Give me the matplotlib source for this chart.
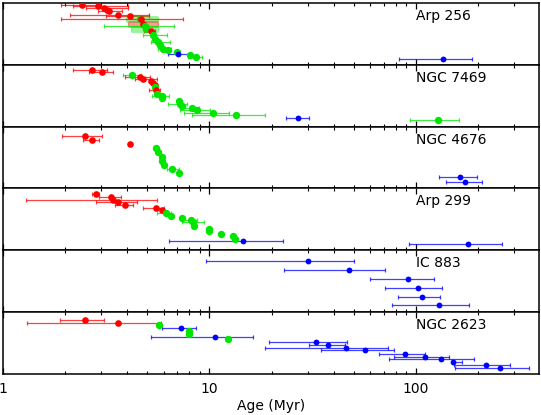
import matplotlib
matplotlib.use('Agg')
import matplotlib.pyplot as plt
from matplotlib.ticker import LogLocator, NullFormatter, FixedLocator, FixedFormatter

# Idades (Myr), limites inferior/superior, linha no painel (de cima p/ baixo) e tipo
# tipo: r = vermelho, g = verde, b = azul
galaxias = ["Arp 256", "NGC 7469", "NGC 4676", "Arp 299", "IC 883", "NGC 2623"]

arp256_age = [2.41, 2.88, 3.10, 3.18, 3.27, 3.60, 4.13, 4.61, 4.67, 4.79, 4.88, 4.92,
              5.22, 5.35, 5.46, 5.62, 5.77, 5.98, 6.33, 6.95, 7.08, 8.06, 8.59, 134.7]
arp256_lo = [1.91, 2.19, 2.53, 3.18, 2.90, 2.11, 3.15, 3.93, 1.91, 4.02, 3.10, 4.17,
             4.84, 4.79, 5.46, 5.22, 5.77, 5.66, 6.33, 6.95, 6.33, 8.06, 7.91, 82.5]
arp256_hi = [2.98, 4.02, 4.02, 3.18, 3.76, 5.12, 5.12, 5.66, 7.48, 5.66, 6.77, 5.66,
             5.46, 6.22, 5.46, 6.45, 5.77, 6.54, 6.33, 6.95, 8.06, 8.06, 9.19, 187]
arp256_row = [1.8, 3.2, 4.8, 6.8, 8.5, 11.8, 13.2, 15.8, 16.5, 21.5, 23.5, 25.8,
              28.5, 32.5, 35.8, 39.2, 42.5, 45.8, 47.5, 49.2, 50.8, 51.8, 54.2, 55.8]
arp256_kind = "rrrrrrrgrrggrgggggggbggb"

ngc7469_age = [2.71, 3.01, 4.22, 4.61, 4.78, 5.22, 5.35, 5.45, 5.45, 5.52, 5.60,
               5.92, 5.92, 7.12, 7.20, 7.36, 8.20, 8.66, 10.4, 13.5, 27.0, 128]
ngc7469_lo = [2.19, 2.62, 3.83, 3.90, 4.36, 5.22, 5.35, 5.45, 5.45, 5.12, 5.60,
              5.26, 5.92, 7.12, 6.33, 7.36, 7.20, 7.20, 7.56, 8.26, 23.5, 94]
ngc7469_hi = [3.18, 3.40, 4.67, 5.17, 5.56, 5.22, 5.35, 5.45, 5.45, 5.77, 5.60,
              6.40, 5.92, 7.12, 7.77, 7.36, 8.95, 10.1, 12.5, 18.6, 30.4, 162]
ngc7469_row = [5.0, 7.3, 10.0, 12.3, 14.7, 16.7, 18.3, 20.0, 22.3, 25.0, 29.0,
               31.3, 33.7, 36.7, 39.0, 41.3, 43.3, 45.7, 48.3, 50.7, 53.0, 55.7]
ngc7469_kind = "rrgrrrrrgrggggggggggbg"

ngc4676_age = [2.51, 2.71, 4.13, 5.50, 5.63, 5.92, 5.92, 6.00, 6.62, 7.12, 163, 173]
ngc4676_lo = [1.94, 2.45, 4.13, 5.50, 5.63, 5.92, 5.92, 6.00, 6.22, 7.12, 130, 140]
ngc4676_hi = [3.03, 2.92, 4.13, 5.50, 5.63, 5.92, 5.92, 6.00, 7.12, 7.12, 198, 209]
ngc4676_row = [9.0, 13.3, 17.3, 21.7, 25.7, 30.0, 34.0, 38.3, 42.3, 46.3, 50.7, 55.0]
ngc4676_kind = "rrrgggggggbb"

arp299_age = [2.81, 3.34, 3.40, 3.60, 3.92, 5.50, 5.92, 6.15, 6.52, 7.36, 8.13, 8.30,
              8.43, 9.90, 9.96, 11.4, 13.0, 13.3, 14.6, 179]
arp299_lo = [2.69, 2.92, 1.30, 2.81, 3.49, 4.79, 5.92, 5.60, 6.52, 7.36, 7.36, 7.36,
             8.43, 9.90, 9.96, 11.4, 13.0, 13.3, 6.34, 93.1]
arp299_hi = [2.93, 3.74, 5.56, 4.44, 4.28, 6.05, 5.92, 6.50, 6.52, 7.36, 8.66, 9.41,
             8.43, 9.90, 9.96, 11.4, 13.0, 13.3, 22.6, 262]
arp299_row = [5.7, 9.0, 11.3, 14.0, 16.3, 19.7, 21.7, 24.7, 27.3, 29.7, 31.7, 34.0,
              37.3, 40.7, 43.0, 45.7, 48.0, 50.7, 53.0, 55.7]
arp299_kind = "rrrrrrrgggggggggggbb"

ic883_age = [30.0, 47.2, 91.2, 102.4, 107.1, 128.8]
ic883_lo = [9.64, 23.1, 59.8, 71.2, 81.5, 76.6]
ic883_hi = [50.3, 71.1, 122.6, 133.8, 131, 180]
ic883_row = [10.7, 19.7, 28.3, 37.3, 46.3, 55.0]
ic883_kind = "bbbbbb"

ngc2623_age = [2.51, 3.60, 5.72, 7.29, 7.94, 7.94, 10.66, 12.3, 32.8, 37.5, 46.0,
               56.9, 88.2, 111.2, 132.7, 151, 219, 257]
ngc2623_lo = [1.89, 1.31, 5.72, 5.92, 7.94, 7.94, 5.20, 12.3, 19.5, 30.4, 18.6,
              34.7, 66.4, 78.7, 74, 150, 153.5, 155]
ngc2623_hi = [3.10, 5.83, 5.72, 8.61, 7.94, 7.94, 16.2, 12.3, 46.4, 45.5, 73.3,
              78.7, 110.6, 145, 191, 167, 287, 353]
ngc2623_row = [8.0, 10.7, 13.3, 16.3, 19.0, 22.3, 24.7, 27.3, 30.3, 33.3, 35.7,
               38.3, 41.7, 44.7, 47.3, 50.0, 53.0, 55.7]
ngc2623_kind = "rrgbggbgbbbbbbbbbb"

paineis = [
    (arp256_age, arp256_lo, arp256_hi, arp256_row, arp256_kind),
    (ngc7469_age, ngc7469_lo, ngc7469_hi, ngc7469_row, ngc7469_kind),
    (ngc4676_age, ngc4676_lo, ngc4676_hi, ngc4676_row, ngc4676_kind),
    (arp299_age, arp299_lo, arp299_hi, arp299_row, arp299_kind),
    (ic883_age, ic883_lo, ic883_hi, ic883_row, ic883_kind),
    (ngc2623_age, ngc2623_lo, ngc2623_hi, ngc2623_row, ngc2623_kind),
]

# barras largas (caixas sombreadas) no painel Arp 256
largas = {0: [7, 9, 11]}

cores = {'r': '#ff0000', 'g': '#00e600', 'b': '#0000ff'}
tam = {'r': 4.8, 'g': 5.3, 'b': 4.2}

fig, axes = plt.subplots(6, 1, figsize=(5.41, 4.15), dpi=100, sharex=True)
fig.subplots_adjust(left=0.0055, right=0.9963, bottom=0.0988, top=0.9928, hspace=0)

for i, ax in enumerate(axes):
    age, lo, hi, row, kind = paineis[i]
    for j in range(len(age)):
        c = cores[kind[j]]
        lw = 5 if j in largas.get(i, []) else 0.9
        alpha = 0.4 if lw > 1 else 0.75
        if hi[j] > lo[j]:
            ax.errorbar(age[j], row[j], xerr=[[age[j] - lo[j]], [hi[j] - age[j]]],
                        fmt='none', ecolor=c, elinewidth=lw, capsize=1.3,
                        capthick=0.9, alpha=alpha, zorder=2)
        ax.plot(age[j], row[j], 'o', color=c, ms=tam[kind[j]], mec='none', zorder=3)

    ax.text(100, 13, galaxias[i], fontsize=10, ha='left', va='center')

    ax.set_xscale('log')
    ax.set_xlim(1, 395)
    ax.set_ylim(62, 0)
    ax.set_yticks([])
    ax.xaxis.set_major_locator(FixedLocator([1, 10, 100]))
    ax.xaxis.set_minor_locator(LogLocator(base=10, subs=range(2, 10)))
    ax.xaxis.set_minor_formatter(NullFormatter())
    ax.tick_params(axis='x', which='major', direction='in', length=4.5, width=0.9,
                   top=True, bottom=True)
    ax.tick_params(axis='x', which='minor', direction='in', length=2.5, width=0.8,
                   top=True, bottom=True)
    for s in ax.spines.values():
        s.set_linewidth(1.1)

axes[-1].xaxis.set_major_formatter(FixedFormatter(['1', '10', '100']))
axes[-1].tick_params(axis='x', which='major', labelsize=10, pad=6)
axes[-1].set_xlabel('Age (Myr)', fontsize=10, labelpad=2)

plt.savefig('out.png', dpi=100)
